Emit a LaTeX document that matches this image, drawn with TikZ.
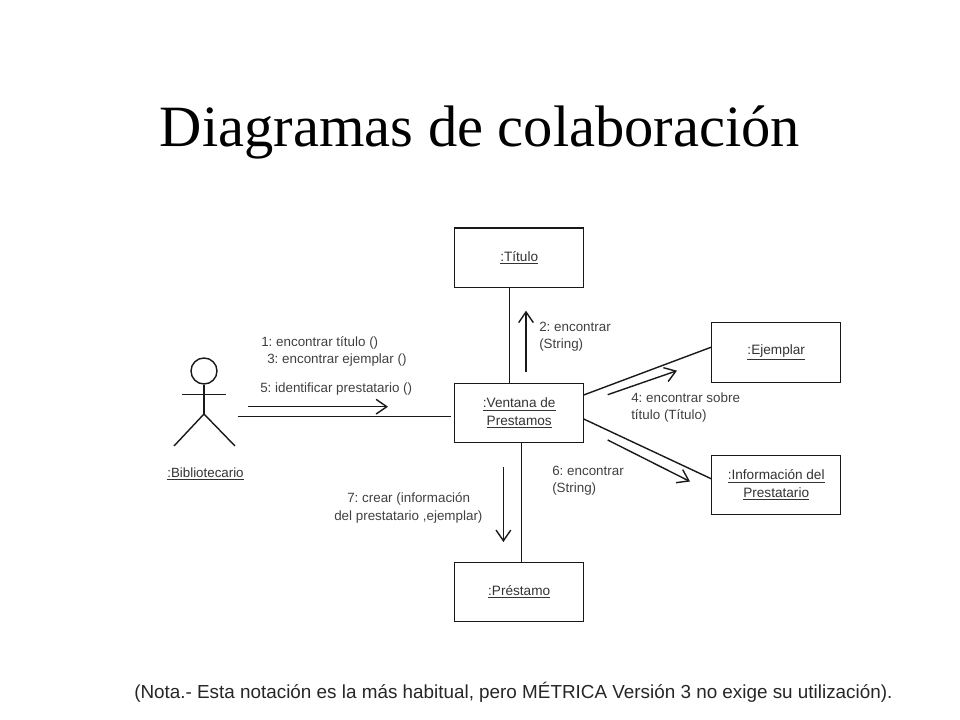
\documentclass[tikz,border=0pt]{standalone}
\usepackage{fontspec}
\setmainfont{Liberation Serif}
\setsansfont{Liberation Sans}
\usetikzlibrary{arrows.meta}
\tikzset{
  x=0.75pt,y=-0.75pt,
  ink/.style={line width=1.05pt,draw=black!90},
  obj/.style={draw=black!90,line width=1.05pt,fill=white,minimum width=96.75pt,minimum height=44.6pt,inner sep=0pt,align=center,font=\sffamily\fontsize{10.2pt}{13pt}\selectfont,text=black!80},
  msg/.style={ink,-{Straight Barb[length=8pt,width=11pt,line width=1.05pt]}},
  lab/.style={anchor=base west,inner sep=0pt,font=\sffamily\fontsize{10.05pt}{12pt}\selectfont,text=black!75},
}
\begin{document}
\frenchspacing
\begin{tikzpicture}
\useasboundingbox (0,0) rectangle (960,720);
\node[anchor=base,inner sep=0pt,font=\fontsize{43.9pt}{50pt}\selectfont,text=black] (title) at (480,146.3) {Diagramas de colaboración};

\node[obj] (tit) at (519.2,257.8) {\underline{:Título}};
\node[obj] (ven) at (519.2,413) {\underline{:Ventana de}\\\underline{Prestamos}};
\node[obj] (eje) at (776.2,352.5) {\underline{:Ejemplar}};
\node[obj] (inf) at (776.2,485) {\underline{:Información del}\\\underline{Prestatario}};
\node[obj] (pre) at (519.2,592) {\underline{:Préstamo}};

% actor
\node[circle,ink,minimum size=19.5pt,inner sep=0pt] (head) at (204,371) {};
\coordinate (hip) at (204,414);
\coordinate (armL) at (181.7,394.7);
\coordinate (armR) at (226,394.7);
\coordinate (footL) at (174,446);
\coordinate (footR) at (235,446);
\draw[ink] (head.south) -- (hip);
\draw[ink] (armL) -- (armR);
\draw[ink] (footL) -- (hip) -- (footR);
\node[anchor=base,inner sep=0pt,font=\sffamily\fontsize{10pt}{12pt}\selectfont,text=black!80] (bib) at (205.5,477) {\underline{:Bibliotecario}};

% links
\coordinate (a1) at (237.5,416.3);
\coordinate (a2) at (451,416.3);
\draw[ink] (a1) -- (a2);
\draw[ink] (tit.south -| 509.7,0) -- (ven.north -| 509.7,0);
\draw[ink] (ven.south -| 521.7,0) -- (pre.north -| 521.7,0);
\coordinate (v1) at (583.7,395);
\coordinate (e1) at (711.7,347);
\coordinate (v2) at (583.7,419);
\coordinate (i1) at (711.7,479);
\draw[ink] (v1) -- (e1);
\draw[ink] (v2) -- (i1);

% message arrows
\coordinate (m1a) at (247.5,406.7); \coordinate (m1b) at (388,406.7);
\coordinate (m2a) at (526,372);     \coordinate (m2b) at (526,310.7);
\coordinate (m4a) at (607.7,394.7); \coordinate (m4b) at (677,370.7);
\coordinate (m6a) at (607.7,440);   \coordinate (m6b) at (690,481.5);
\coordinate (m7a) at (503.4,467);   \coordinate (m7b) at (503.4,542);
\draw[msg] (m1a) -- (m1b);
\draw[msg] (m2a) -- (m2b);
\draw[msg] (m4a) -- (m4b);
\draw[msg] (m6a) -- (m6b);
\draw[msg] (m7a) -- (m7b);

% labels
\node[lab] (l1) at (261,346) {1: encontrar título ()};
\node[lab] (l3) at (267,363) {3: encontrar ejemplar ()};
\node[lab] (l5) at (260,392) {5: identificar prestatario ()};
\node[lab] (l2) at (539,331) {2: encontrar};
\node[lab] (l2b) at (539,348) {(String)};
\node[lab] (l4) at (631,402) {4: encontrar sobre};
\node[lab] (l4b) at (631,419) {título (Título)};
\node[lab] (l6) at (552,475) {6: encontrar};
\node[lab] (l6b) at (552,492) {(String)};
\node[lab] (l7) at (347,502) {7: crear (información};
\node[lab] (l7b) at (334,520) {del prestatario ,ejemplar)};

\node[anchor=base west,inner sep=0pt,font=\sffamily\fontsize{14.15pt}{16pt}\selectfont,text=black!85] (nota) at (134,698) {(Nota.- Esta notación es la más habitual, pero MÉTRICA Versión 3 no exige su utilización).};
\end{tikzpicture}
\end{document}
